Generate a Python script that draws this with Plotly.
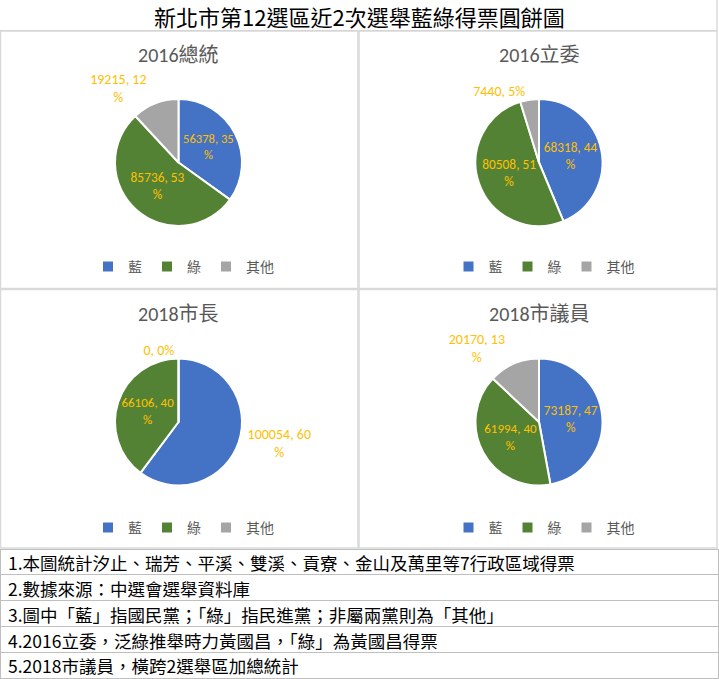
import plotly.graph_objects as go

# ---------------- data ----------------
main_title = "新北市第12選區近2次選舉藍綠得票圓餅圖"
chart_titles = ["2016總統", "2016立委", "2018市長", "2018市議員"]
parties = ["藍", "綠", "其他"]

votes_2016_president = [56378, 85736, 19215]
votes_2016_legislator = [68318, 80508, 7440]
votes_2018_mayor = [100054, 66106, 0]
votes_2018_council = [73187, 61994, 20170]

pct_2016_president = [35, 53, 12]
pct_2016_legislator = [44, 51, 5]
pct_2018_mayor = [60, 40, 0]
pct_2018_council = [47, 40, 13]

notes = [
    "1.本圖統計汐止、瑞芳、平溪、雙溪、貢寮、金山及萬里等7行政區域得票",
    "2.數據來源：中選會選舉資料庫",
    "3.圖中「藍」指國民黨；「綠」指民進黨；非屬兩黨則為「其他」",
    "4.2016立委，泛綠推舉時力黃國昌，「綠」為黃國昌得票",
    "5.2018市議員，橫跨2選舉區加總統計",
]

# ---------------- style ----------------
W, H = 719, 679
colors = ["#4472C4", "#548235", "#A5A5A5"]
label_color = "#FFC000"
grey_text = "#595959"
font_sans = "Carlito, Lato, 'Noto Sans CJK TC', sans-serif"
font_cjk = "'Noto Sans CJK TC', sans-serif"

all_votes = [votes_2016_president, votes_2016_legislator, votes_2018_mayor, votes_2018_council]
all_pct = [pct_2016_president, pct_2016_legislator, pct_2018_mayor, pct_2018_council]
positions = [
    ["inside", "inside", "outside"],
    ["inside", "inside", "outside"],
    ["outside", "inside", "outside"],
    ["inside", "inside", "outside"],
]

# panel geometry in pixels
centers = [(178.5, 162.5), (539, 162.5), (178.5, 422), (539, 422)]
radius = 63.5
title_y = [55, 55, 314, 314]
legend_y = [267, 267, 528, 528]


def px2x(x):
    return x / W


def px2y(y):
    return 1 - y / H


def make_text(v, p):
    s = f"{v}, {p}%"
    if len(s) > 8:
        s = f"{v}, {p}<br>%"
    return s


fig = go.Figure()
legend_names = ["legend", "legend2", "legend3", "legend4"]
for i in range(4):
    cx, cy = centers[i]
    texts = [make_text(v, p) for v, p in zip(all_votes[i], all_pct[i])]
    # zero-width spaces keep each pie's legend entries distinct
    labels = [lab + "\u200b" * i for lab in parties]
    fig.add_trace(go.Pie(
        labels=labels,
        values=all_votes[i],
        text=texts,
        textinfo="text",
        textposition=positions[i],
        insidetextorientation="horizontal",
        sort=False,
        direction="clockwise",
        rotation=0,
        marker=dict(colors=colors, line=dict(color="white", width=2)),
        textfont=dict(color=label_color, size=14, family=font_sans),
        insidetextfont=dict(color=label_color, size=14, family=font_sans),
        outsidetextfont=dict(color=label_color, size=14, family=font_sans),
        domain=dict(x=[px2x(cx - radius), px2x(cx + radius)],
                    y=[px2y(cy + radius), px2y(cy - radius)]),
        legend=legend_names[i],
        hoverinfo="label+value+percent",
    ))

layout_legends = {}
for i in range(4):
    cx, _ = centers[i]
    layout_legends[legend_names[i]] = dict(
        orientation="h", x=px2x(cx + 5), xanchor="center",
        y=px2y(legend_y[i]), yanchor="middle",
        font=dict(size=14, color=grey_text, family=font_cjk),
        itemwidth=30, bgcolor="rgba(0,0,0,0)", traceorder="normal",
    )

annotations = [dict(
    text=main_title, x=px2x(359), y=px2y(16), xref="paper", yref="paper",
    showarrow=False, font=dict(size=22, color="#000000", family=font_cjk),
    xanchor="center", yanchor="middle",
)]
for i in range(4):
    cx, _ = centers[i]
    annotations.append(dict(
        text=chart_titles[i], x=px2x(cx), y=px2y(title_y[i]),
        xref="paper", yref="paper", showarrow=False,
        font=dict(size=20, color=grey_text, family=font_sans),
        xanchor="center", yanchor="middle",
    ))

panel_line = "#D9D9D9"
shapes = []
# title box
shapes.append(dict(type="line", xref="paper", yref="paper", x0=0, x1=px2x(717),
                   y0=px2y(30.5), y1=px2y(30.5), line=dict(color="#C8C8C8", width=1)))
shapes.append(dict(type="line", xref="paper", yref="paper", x0=px2x(717), x1=px2x(717),
                   y0=px2y(0), y1=px2y(30.5), line=dict(color="#C8C8C8", width=1)))
# chart panels
for (x0, x1) in [(0.5, 358), (359, 717)]:
    for (y0, y1) in [(31, 288.5), (289.5, 548)]:
        shapes.append(dict(type="rect", xref="paper", yref="paper",
                           x0=px2x(x0), x1=px2x(x1), y0=px2y(y1), y1=px2y(y0),
                           line=dict(color=panel_line, width=1.5)))

# notes table
fig.add_trace(go.Table(
    domain=dict(x=[0, px2x(718)], y=[0, px2y(549)]),
    columnwidth=[1],
    header=dict(values=[notes[0]], align="left", height=25.8,
                fill=dict(color="white"), line=dict(color="#BFBFBF", width=1),
                font=dict(size=17.5, color="#000000", family=font_cjk)),
    cells=dict(values=[notes[1:]], align="left", height=25.8,
               fill=dict(color="white"), line=dict(color="#BFBFBF", width=1),
               font=dict(size=17.5, color="#000000", family=font_cjk)),
))

fig.update_layout(
    width=W, height=H,
    margin=dict(l=0, r=0, t=0, b=0),
    paper_bgcolor="white", plot_bgcolor="white",
    annotations=annotations, shapes=shapes,
    **layout_legends,
)

fig.write_html("out.html", config={"displayModeBar": False},
               post_script="document.body.style.margin='0';")
